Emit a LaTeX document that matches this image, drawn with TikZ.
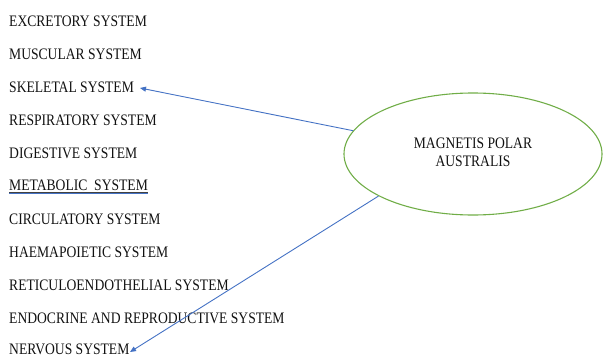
\documentclass[tikz,border=0pt]{standalone}
\usepackage{fontspec}
\setmainfont{Liberation Serif}[FakeStretch=0.85]
\usetikzlibrary{shapes.geometric,arrows.meta}
\definecolor{arrowblue}{HTML}{4472C4}
\definecolor{ellgreen}{HTML}{70AD47}
\definecolor{txtgray}{HTML}{111111}
\tikzset{
  item/.style={anchor=base west, inner sep=0pt, font=\fontsize{16}{18}\selectfont, text=txtgray},
  link/.style={draw=arrowblue, line width=0.9pt, -{Triangle[length=6pt,width=5pt]}},
}
\begin{document}
\begin{tikzpicture}[x=1pt,y=-1pt]
\useasboundingbox (0,0) rectangle (603,356);
\node[item] (exc) at (9,26) {EXCRETORY SYSTEM};
\node[item] (mus) at (9,59) {MUSCULAR SYSTEM};
\node[item] (ske) at (9,92) {SKELETAL SYSTEM};
\node[item] (res) at (9,125) {RESPIRATORY SYSTEM};
\node[item] (dig) at (9,158) {DIGESTIVE SYSTEM};
\node[item] (met) at (9,190) {METABOLIC\ \ SYSTEM};
\node[item] (cir) at (9,224) {CIRCULATORY SYSTEM};
\node[item] (hae) at (9,257) {HAEMAPOIETIC SYSTEM};
\node[item] (ret) at (9,290) {RETICULOENDOTHELIAL SYSTEM};
\node[item] (end) at (9,323) {ENDOCRINE AND REPRODUCTIVE SYSTEM};
\node[item] (ner) at (9,354) {NERVOUS SYSTEM};
\draw[txtgray!80, line width=0.6pt] ([yshift=-2.3pt]met.base west) -- ([yshift=-2.3pt]met.base east);
\draw[arrowblue, line width=1pt] ([yshift=-3.6pt]met.base west) -- ([yshift=-3.6pt]met.base east);
\node[ellipse, draw=ellgreen, line width=1.1pt, minimum width=258pt, minimum height=122pt,
      inner sep=0pt, font=\fontsize{16}{18}\selectfont, text=txtgray] (m) at (473,154)
      {\raisebox{3pt}{\begin{tabular}{@{}c@{}}MAGNETIS POLAR\\AUSTRALIS\end{tabular}}};
\coordinate (skeltip) at (140,88);
\coordinate (nervtip) at (130,352);
\draw[link] (m.169) -- (skeltip);
\draw[link] (m.204) -- (nervtip);
\end{tikzpicture}
\end{document}
